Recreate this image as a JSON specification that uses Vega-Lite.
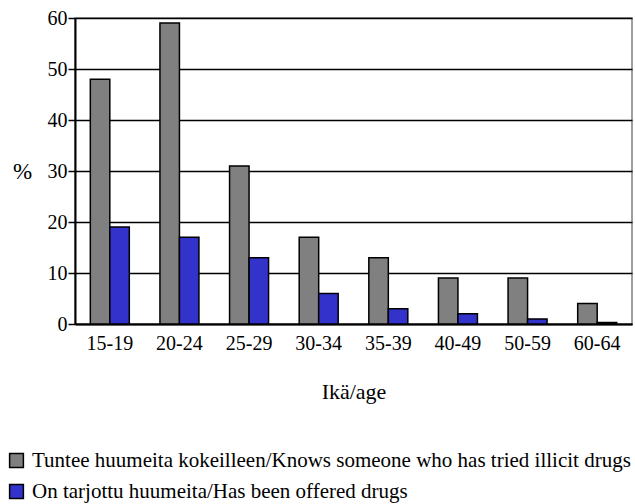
{
  "$schema": "https://vega.github.io/schema/vega-lite/v6.json",
  "width": 557,
  "height": 306,
  "autosize": {"type": "none"},
  "padding": {"left": 75, "top": 18, "right": 3, "bottom": 180},
  "background": "white",
  "config": {
    "font": "Liberation Serif",
    "axis": {"labelFont": "Liberation Serif", "titleFont": "Liberation Serif"},
    "legend": {"labelFont": "Liberation Serif", "titleFont": "Liberation Serif"},
    "view": {"stroke": "#808080", "strokeWidth": 1.5}
  },
  "data": {
    "values": [
      {"age": "15-19", "series": "Tuntee huumeita kokeilleen/Knows someone who has tried illicit drugs", "value": 48},
      {"age": "15-19", "series": "On tarjottu huumeita/Has been offered drugs", "value": 19},
      {"age": "20-24", "series": "Tuntee huumeita kokeilleen/Knows someone who has tried illicit drugs", "value": 59},
      {"age": "20-24", "series": "On tarjottu huumeita/Has been offered drugs", "value": 17},
      {"age": "25-29", "series": "Tuntee huumeita kokeilleen/Knows someone who has tried illicit drugs", "value": 31},
      {"age": "25-29", "series": "On tarjottu huumeita/Has been offered drugs", "value": 13},
      {"age": "30-34", "series": "Tuntee huumeita kokeilleen/Knows someone who has tried illicit drugs", "value": 17},
      {"age": "30-34", "series": "On tarjottu huumeita/Has been offered drugs", "value": 6},
      {"age": "35-39", "series": "Tuntee huumeita kokeilleen/Knows someone who has tried illicit drugs", "value": 13},
      {"age": "35-39", "series": "On tarjottu huumeita/Has been offered drugs", "value": 3},
      {"age": "40-49", "series": "Tuntee huumeita kokeilleen/Knows someone who has tried illicit drugs", "value": 9},
      {"age": "40-49", "series": "On tarjottu huumeita/Has been offered drugs", "value": 2},
      {"age": "50-59", "series": "Tuntee huumeita kokeilleen/Knows someone who has tried illicit drugs", "value": 9},
      {"age": "50-59", "series": "On tarjottu huumeita/Has been offered drugs", "value": 1},
      {"age": "60-64", "series": "Tuntee huumeita kokeilleen/Knows someone who has tried illicit drugs", "value": 4},
      {"age": "60-64", "series": "On tarjottu huumeita/Has been offered drugs", "value": 0.3}
    ]
  },
  "mark": {"type": "bar", "stroke": "black", "strokeWidth": 1.5},
  "encoding": {
    "x": {
      "field": "age",
      "type": "nominal",
      "sort": null,
      "scale": {"paddingInner": 0.44, "paddingOuter": 0.22},
      "axis": {
        "title": "Ikä/age",
        "titleFontSize": 22,
        "titleFontWeight": "normal",
        "titleColor": "black",
        "titlePadding": 28,
        "labelAngle": 0,
        "labelFontSize": 20,
        "labelColor": "black",
        "labelPadding": 9,
        "ticks": false,
        "domainColor": "black",
        "domainWidth": 2
      }
    },
    "xOffset": {"field": "series", "type": "nominal", "sort": null},
    "y": {
      "field": "value",
      "type": "quantitative",
      "scale": {"domain": [0, 60], "nice": false},
      "axis": {
        "values": [0, 10, 20, 30, 40, 50, 60],
        "title": "%",
        "titleAngle": 0,
        "titleX": -53,
        "titleY": 153,
        "titleAlign": "center",
        "titleBaseline": "middle",
        "titleFontSize": 23,
        "titleFontWeight": "normal",
        "titleColor": "black",
        "labelFontSize": 20,
        "labelColor": "black",
        "labelPadding": 1,
        "tickColor": "black",
        "tickSize": 7,
        "tickWidth": 1.5,
        "domainColor": "black",
        "domainWidth": 2,
        "gridColor": "black",
        "gridWidth": 1.5,
        "gridOpacity": 1
      }
    },
    "color": {
      "field": "series",
      "type": "nominal",
      "sort": null,
      "scale": {
        "domain": ["Tuntee huumeita kokeilleen/Knows someone who has tried illicit drugs", "On tarjottu huumeita/Has been offered drugs"],
        "range": ["#808080", "#3333CC"]
      },
      "legend": {
        "title": null,
        "orient": "none",
        "legendX": -69,
        "legendY": 432,
        "symbolType": "square",
        "symbolSize": 190,
        "symbolStrokeColor": "black",
        "symbolStrokeWidth": 1.5,
        "symbolOpacity": 1,
        "labelFont": "Liberation Serif",
        "labelFontSize": 21,
        "labelColor": "black",
        "labelLimit": 800,
        "labelOffset": 5,
        "rowPadding": 9
      }
    }
  }
}
